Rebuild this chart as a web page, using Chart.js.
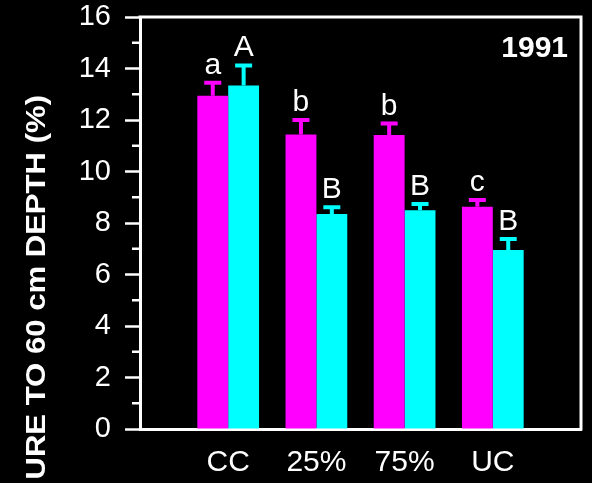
<!DOCTYPE html>
<html>
<head>
<meta charset="utf-8">
<script src="https://cdn.jsdelivr.net/npm/chart.js@4.4.1/dist/chart.umd.min.js"></script>
<style>
  html, body { margin: 0; padding: 0; background: #000; }
  canvas { display: block; }
</style>
</head>
<body>
<canvas id="chart" width="592" height="483"></canvas>
<script>
// Treatments along the x axis
const categories = ['CC', '25%', '75%', 'UC'];

// Soil moisture (%) and standard errors, first series (magenta)
const seriesAValues = [12.94, 11.44, 11.42, 8.63];
const seriesAErrors = [0.51, 0.56, 0.44, 0.26];
const seriesALetters = ['a', 'b', 'b', 'c'];

// Second series (cyan)
const seriesBValues = [13.34, 8.35, 8.50, 6.95];
const seriesBErrors = [0.78, 0.26, 0.24, 0.43];
const seriesBLetters = ['A', 'B', 'B', 'B'];

// Axis ticks and texts
const yTicks = [0, 2, 4, 6, 8, 10, 12, 14, 16];
const yMinorTicks = [1, 3, 5, 7, 9, 11, 13, 15];
const yearText = '1991';
const yTitleText = 'URE TO 60 cm DEPTH (%)';

const MAGENTA = '#ff00ff';
const CYAN = '#00ffff';
const WHITE = '#ffffff';
const FONT = '"Liberation Sans", Arial, sans-serif';

// Empty slots at both ends leave a margin of one category on each side
const paddedLabels = ['', ...categories, ''];
const pad = arr => [null, ...arr, null];

const errorInfo = [
  { errors: seriesAErrors, letters: seriesALetters },
  { errors: seriesBErrors, letters: seriesBLetters }
];

// Error bars with caps and significance letters above them
const errorBarPlugin = {
  id: 'errorBars',
  afterDatasetsDraw(chart) {
    const { ctx } = chart;
    const yScale = chart.scales.y;
    chart.data.datasets.forEach((ds, di) => {
      const meta = chart.getDatasetMeta(di);
      const info = errorInfo[di];
      meta.data.forEach((bar, i) => {
        const v = ds.data[i];
        if (v == null) return;
        const err = info.errors[i - 1];
        const top = yScale.getPixelForValue(v + err);
        ctx.save();
        ctx.strokeStyle = ds.backgroundColor;
        ctx.lineWidth = 4;
        ctx.beginPath();
        ctx.moveTo(bar.x, bar.y);
        ctx.lineTo(bar.x, top);
        ctx.moveTo(bar.x - 8.5, top);
        ctx.lineTo(bar.x + 8.5, top);
        ctx.stroke();
        ctx.fillStyle = WHITE;
        ctx.font = '30px ' + FONT;
        ctx.textAlign = 'center';
        ctx.textBaseline = 'alphabetic';
        ctx.fillText(info.letters[i - 1], bar.x, top - 9);
        ctx.restore();
      });
    });
  }
};

// Frame, minor ticks, year label and rotated y title
const framePlugin = {
  id: 'frame',
  afterDraw(chart) {
    const { ctx, chartArea } = chart;
    const yScale = chart.scales.y;
    ctx.save();
    ctx.strokeStyle = WHITE;
    ctx.lineWidth = 3;
    ctx.beginPath();
    ctx.moveTo(chartArea.left - 1.5, chartArea.top);
    ctx.lineTo(chartArea.right, chartArea.top);
    ctx.lineTo(chartArea.right, chartArea.bottom + 1.5);
    ctx.stroke();

    ctx.lineWidth = 2.5;
    ctx.beginPath();
    yMinorTicks.forEach(t => {
      const py = yScale.getPixelForValue(t);
      ctx.moveTo(chartArea.left - 8, py);
      ctx.lineTo(chartArea.left, py);
    });
    ctx.stroke();

    ctx.fillStyle = WHITE;
    ctx.font = 'bold 30px ' + FONT;
    ctx.textAlign = 'right';
    ctx.textBaseline = 'alphabetic';
    ctx.fillText(yearText, 568, 57);

    ctx.translate(45, 95);
    ctx.rotate(-Math.PI / 2);
    ctx.scale(1.11, 1);
    ctx.font = 'bold 28px ' + FONT;
    ctx.textAlign = 'right';
    ctx.fillText(yTitleText, 0, 0);
    ctx.restore();
  }
};

new Chart(document.getElementById('chart'), {
  type: 'bar',
  data: {
    labels: paddedLabels,
    datasets: [
      { data: pad(seriesAValues), backgroundColor: MAGENTA, borderWidth: 0,
        categoryPercentage: 0.7, barPercentage: 1.0 },
      { data: pad(seriesBValues), backgroundColor: CYAN, borderWidth: 0,
        categoryPercentage: 0.7, barPercentage: 1.0 }
    ]
  },
  options: {
    responsive: false,
    animation: false,
    layout: { padding: { top: 17, right: 11, left: 0, bottom: 0 } },
    plugins: { legend: { display: false }, tooltip: { enabled: false } },
    scales: {
      x: {
        type: 'category',
        offset: false,
        grid: { display: false, drawTicks: false },
        border: { display: true, color: WHITE, width: 3 },
        ticks: { color: WHITE, font: { family: FONT, size: 30 }, padding: 16,
                 maxRotation: 0, autoSkip: false },
        afterFit(scale) { scale.height = 54; scale.paddingLeft = 0; scale.paddingRight = 0; }
      },
      y: {
        min: 0,
        max: 16,
        grid: { display: true, drawOnChartArea: false, drawTicks: true,
                tickLength: 15, tickColor: WHITE, tickWidth: 2.5 },
        border: { display: true, color: WHITE, width: 3 },
        ticks: { color: WHITE, font: { family: FONT, size: 29 }, padding: 14, stepSize: 2 },
        afterBuildTicks(scale) { scale.ticks = yTicks.map(v => ({ value: v })); },
        afterFit(scale) { scale.width = 140; scale.paddingTop = 0; scale.paddingBottom = 0; }
      }
    }
  },
  plugins: [errorBarPlugin, framePlugin]
});
</script>
</body>
</html>
